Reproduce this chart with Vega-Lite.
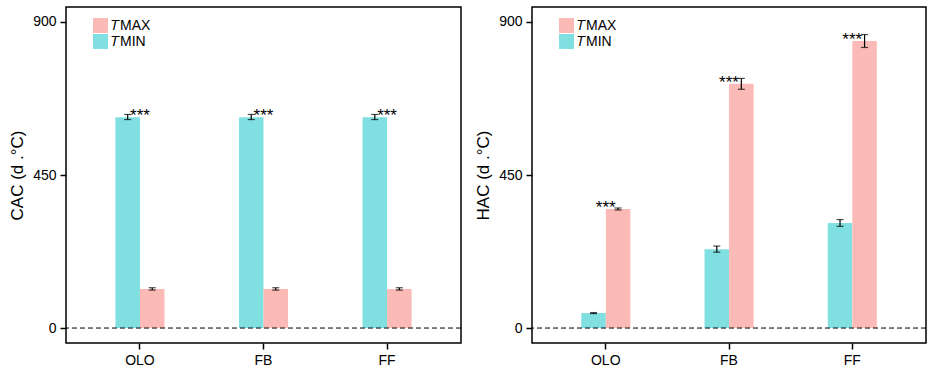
{
  "$schema": "https://vega.github.io/schema/vega-lite/v6.json",
  "padding": {"left": 7, "top": 6, "right": 5, "bottom": 5},
  "background": "white",
  "config": {
    "view": {"stroke": "black", "strokeWidth": 1.5},
    "font": "Liberation Sans",
    "axis": {
      "grid": false,
      "domain": false,
      "ticks": true,
      "tickColor": "black",
      "tickWidth": 1.5,
      "tickSize": 6,
      "labelColor": "black",
      "labelFontSize": 14,
      "labelPadding": 4,
      "titleColor": "black",
      "titleFontSize": 17,
      "titleFontWeight": "normal"
    }
  },
  "datasets": {
    "bars": [
      {"panel": "CAC", "site": "OLO", "type": "TMIN", "mean": 620, "lo": 613, "hi": 628},
      {"panel": "CAC", "site": "OLO", "type": "TMAX", "mean": 115, "lo": 111.5, "hi": 118.5},
      {"panel": "CAC", "site": "FB", "type": "TMIN", "mean": 620, "lo": 613, "hi": 628},
      {"panel": "CAC", "site": "FB", "type": "TMAX", "mean": 115, "lo": 111.5, "hi": 118.5},
      {"panel": "CAC", "site": "FF", "type": "TMIN", "mean": 620, "lo": 613, "hi": 628},
      {"panel": "CAC", "site": "FF", "type": "TMAX", "mean": 115, "lo": 111.5, "hi": 118.5},
      {"panel": "HAC", "site": "OLO", "type": "TMIN", "mean": 44, "lo": 42.5, "hi": 45.5},
      {"panel": "HAC", "site": "OLO", "type": "TMAX", "mean": 350, "lo": 347, "hi": 353},
      {"panel": "HAC", "site": "FB", "type": "TMIN", "mean": 232, "lo": 223, "hi": 241},
      {"panel": "HAC", "site": "FB", "type": "TMAX", "mean": 718, "lo": 702, "hi": 734},
      {"panel": "HAC", "site": "FF", "type": "TMIN", "mean": 309, "lo": 299, "hi": 319},
      {"panel": "HAC", "site": "FF", "type": "TMAX", "mean": 844, "lo": 825, "hi": 863}
    ],
    "sig": [
      {"panel": "CAC", "site": "OLO", "y": 620, "label": "***"},
      {"panel": "CAC", "site": "FB", "y": 620, "label": "***"},
      {"panel": "CAC", "site": "FF", "y": 620, "label": "***"},
      {"panel": "HAC", "site": "OLO", "y": 350, "label": "***"},
      {"panel": "HAC", "site": "FB", "y": 718, "label": "***"},
      {"panel": "HAC", "site": "FF", "y": 844, "label": "***"}
    ],
    "zero": [{"z": 0}]
  },
  "spacing": 10,
  "resolve": {"scale": {"color": "independent"}, "legend": {"color": "independent"}},
  "hconcat": [
    {
      "width": 395,
      "height": 336,
      "layer": [
        {
          "data": {"name": "bars"},
          "transform": [{"filter": "datum.panel == 'CAC'"}],
          "mark": {"type": "bar"},
          "encoding": {
            "x": {"field": "site", "type": "nominal", "sort": ["OLO", "FB", "FF"], "scale": {"paddingInner": 0.603, "paddingOuter": 0.4}, "axis": {"title": null, "labelAngle": 0, "labelPadding": 4}},
            "xOffset": {"field": "type", "type": "nominal", "sort": ["TMIN", "TMAX"], "scale": {"paddingInner": 0, "paddingOuter": 0}},
            "y": {"field": "mean", "type": "quantitative", "scale": {"domain": [-44, 944], "nice": false, "zero": false}, "axis": {"title": "CAC (d .°C)", "values": [0, 450, 900], "titlePadding": 6}},
            "color": {"field": "type", "type": "nominal", "scale": {"domain": ["TMAX", "TMIN"], "range": ["#FBBAB6", "#80DFE1"]}, "legend": {"title": null, "orient": "none", "legendX": 27, "legendY": 11, "symbolType": "square", "symbolSize": 225, "symbolStrokeWidth": 0, "symbolOpacity": 1, "rowPadding": 1, "labelFontSize": 14, "labelColor": "black", "labelOffset": 3, "labelExpr": "datum.label == 'TMAX' ? '𝑇MAX' : '𝑇MIN'"}}
          }
        },
        {
          "data": {"name": "bars"},
          "transform": [{"filter": "datum.panel == 'CAC'"}],
          "mark": {"type": "rule", "color": "black", "strokeWidth": 1.2},
          "encoding": {
            "x": {"field": "site", "type": "nominal", "sort": ["OLO", "FB", "FF"]},
            "xOffset": {"field": "type", "type": "nominal", "sort": ["TMIN", "TMAX"]},
            "y": {"field": "lo", "type": "quantitative"},
            "y2": {"field": "hi"}
          }
        },
        {
          "data": {"name": "bars"},
          "transform": [{"filter": "datum.panel == 'CAC'"}, {"fold": ["lo", "hi"], "as": ["end", "v"]}],
          "mark": {"type": "tick", "color": "black", "size": 7, "thickness": 1.2},
          "encoding": {
            "x": {"field": "site", "type": "nominal", "sort": ["OLO", "FB", "FF"]},
            "xOffset": {"field": "type", "type": "nominal", "sort": ["TMIN", "TMAX"]},
            "y": {"field": "v", "type": "quantitative"}
          }
        },
        {
          "data": {"name": "zero"},
          "mark": {"type": "rule", "color": "black", "strokeWidth": 1, "strokeDash": [5, 3]},
          "encoding": {"y": {"field": "z", "type": "quantitative"}}
        },
        {
          "data": {"name": "sig"},
          "transform": [{"filter": "datum.panel == 'CAC'"}],
          "mark": {"type": "text", "fontSize": 17, "baseline": "alphabetic", "dy": 4, "color": "black"},
          "encoding": {
            "x": {"field": "site", "type": "nominal", "sort": ["OLO", "FB", "FF"]},
            "y": {"field": "y", "type": "quantitative"},
            "text": {"field": "label"}
          }
        }
      ]
    },
    {
      "width": 394,
      "height": 336,
      "layer": [
        {
          "data": {"name": "bars"},
          "transform": [{"filter": "datum.panel == 'HAC'"}],
          "mark": {"type": "bar"},
          "encoding": {
            "x": {"field": "site", "type": "nominal", "sort": ["OLO", "FB", "FF"], "scale": {"paddingInner": 0.603, "paddingOuter": 0.4}, "axis": {"title": null, "labelAngle": 0, "labelPadding": 4}},
            "xOffset": {"field": "type", "type": "nominal", "sort": ["TMIN", "TMAX"], "scale": {"paddingInner": 0, "paddingOuter": 0}},
            "y": {"field": "mean", "type": "quantitative", "scale": {"domain": [-44, 944], "nice": false, "zero": false}, "axis": {"title": "HAC (d .°C)", "values": [0, 450, 900], "titlePadding": 6}},
            "color": {"field": "type", "type": "nominal", "scale": {"domain": ["TMAX", "TMIN"], "range": ["#FBBAB6", "#80DFE1"]}, "legend": {"title": null, "orient": "none", "legendX": 27, "legendY": 11, "symbolType": "square", "symbolSize": 225, "symbolStrokeWidth": 0, "symbolOpacity": 1, "rowPadding": 1, "labelFontSize": 14, "labelColor": "black", "labelOffset": 3, "labelExpr": "datum.label == 'TMAX' ? '𝑇MAX' : '𝑇MIN'"}}
          }
        },
        {
          "data": {"name": "bars"},
          "transform": [{"filter": "datum.panel == 'HAC'"}],
          "mark": {"type": "rule", "color": "black", "strokeWidth": 1.2},
          "encoding": {
            "x": {"field": "site", "type": "nominal", "sort": ["OLO", "FB", "FF"]},
            "xOffset": {"field": "type", "type": "nominal", "sort": ["TMIN", "TMAX"]},
            "y": {"field": "lo", "type": "quantitative"},
            "y2": {"field": "hi"}
          }
        },
        {
          "data": {"name": "bars"},
          "transform": [{"filter": "datum.panel == 'HAC'"}, {"fold": ["lo", "hi"], "as": ["end", "v"]}],
          "mark": {"type": "tick", "color": "black", "size": 7, "thickness": 1.2},
          "encoding": {
            "x": {"field": "site", "type": "nominal", "sort": ["OLO", "FB", "FF"]},
            "xOffset": {"field": "type", "type": "nominal", "sort": ["TMIN", "TMAX"]},
            "y": {"field": "v", "type": "quantitative"}
          }
        },
        {
          "data": {"name": "zero"},
          "mark": {"type": "rule", "color": "black", "strokeWidth": 1, "strokeDash": [5, 3]},
          "encoding": {"y": {"field": "z", "type": "quantitative"}}
        },
        {
          "data": {"name": "sig"},
          "transform": [{"filter": "datum.panel == 'HAC'"}],
          "mark": {"type": "text", "fontSize": 17, "baseline": "alphabetic", "dy": 4, "color": "black"},
          "encoding": {
            "x": {"field": "site", "type": "nominal", "sort": ["OLO", "FB", "FF"]},
            "y": {"field": "y", "type": "quantitative"},
            "text": {"field": "label"}
          }
        }
      ]
    }
  ]
}
